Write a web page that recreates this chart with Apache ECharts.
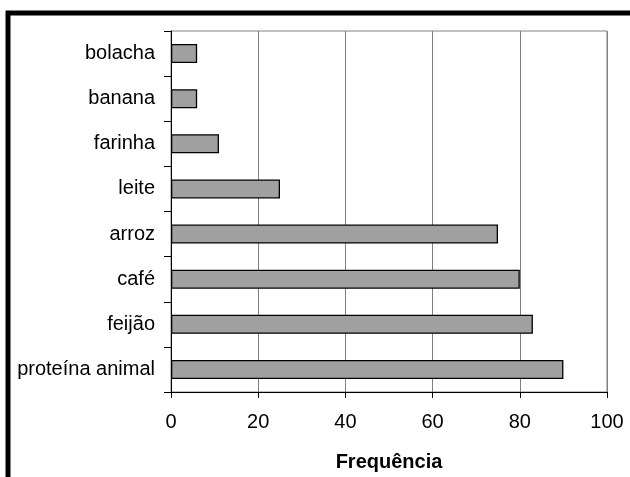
<!DOCTYPE html>
<html>
<head>
<meta charset="utf-8">
<script src="https://cdn.jsdelivr.net/npm/echarts@6/dist/echarts.min.js"></script>
<style>
html,body{margin:0;padding:0;background:#fff;}
#chart{width:630px;height:477px;}
</style>
</head>
<body>
<div id="chart"></div>
<script>
const categories = ["bolacha", "banana", "farinha", "leite", "arroz", "café", "feijão", "proteína animal"];
const values = [6, 6, 11, 25, 75, 80, 83, 90];
const xTicks = [0, 20, 40, 60, 80, 100];
const xTitle = "Frequência";

const FONT = "'Liberation Sans', Arial, sans-serif";
const chart = echarts.init(document.getElementById('chart'), null, {renderer: 'canvas'});
chart.setOption({
  animation: false,
  backgroundColor: '#ffffff',
  graphic: [{
    type: 'rect',
    shape: {x: 8, y: 13, width: 700, height: 600},
    style: {fill: 'none', stroke: '#000', lineWidth: 5},
    z: 100
  }],
  grid: {
    left: 171, right: 23, top: 31, bottom: 82,
    show: true, borderColor: '#808080', borderWidth: 1, backgroundColor: 'transparent'
  },
  xAxis: {
    type: 'value',
    min: xTicks[0], max: xTicks[xTicks.length - 1], interval: 20,
    name: xTitle,
    nameLocation: 'middle',
    nameGap: 60,
    nameTextStyle: {fontFamily: FONT, fontSize: 20, fontWeight: 'bold', color: '#000'},
    axisLine: {show: true, lineStyle: {color: '#000', width: 1}},
    axisTick: {show: true, length: 6, lineStyle: {color: '#000'}},
    axisLabel: {fontFamily: FONT, fontSize: 20, color: '#000', margin: 20,
      formatter: v => xTicks.includes(v) ? String(v) : ''},
    splitLine: {show: true, lineStyle: {color: '#808080', width: 1}}
  },
  yAxis: {
    type: 'category',
    data: categories,
    inverse: true,
    axisLine: {show: true, lineStyle: {color: '#000', width: 1}},
    axisTick: {show: true, length: 7, lineStyle: {color: '#000'}},
    axisLabel: {fontFamily: FONT, fontSize: 20, color: '#000', margin: 16},
    splitLine: {show: false}
  },
  series: [{
    type: 'bar',
    data: values,
    barWidth: 19,
    itemStyle: {color: '#a0a0a0', borderColor: '#000', borderWidth: 1.3}
  }]
});
</script>
</body>
</html>
